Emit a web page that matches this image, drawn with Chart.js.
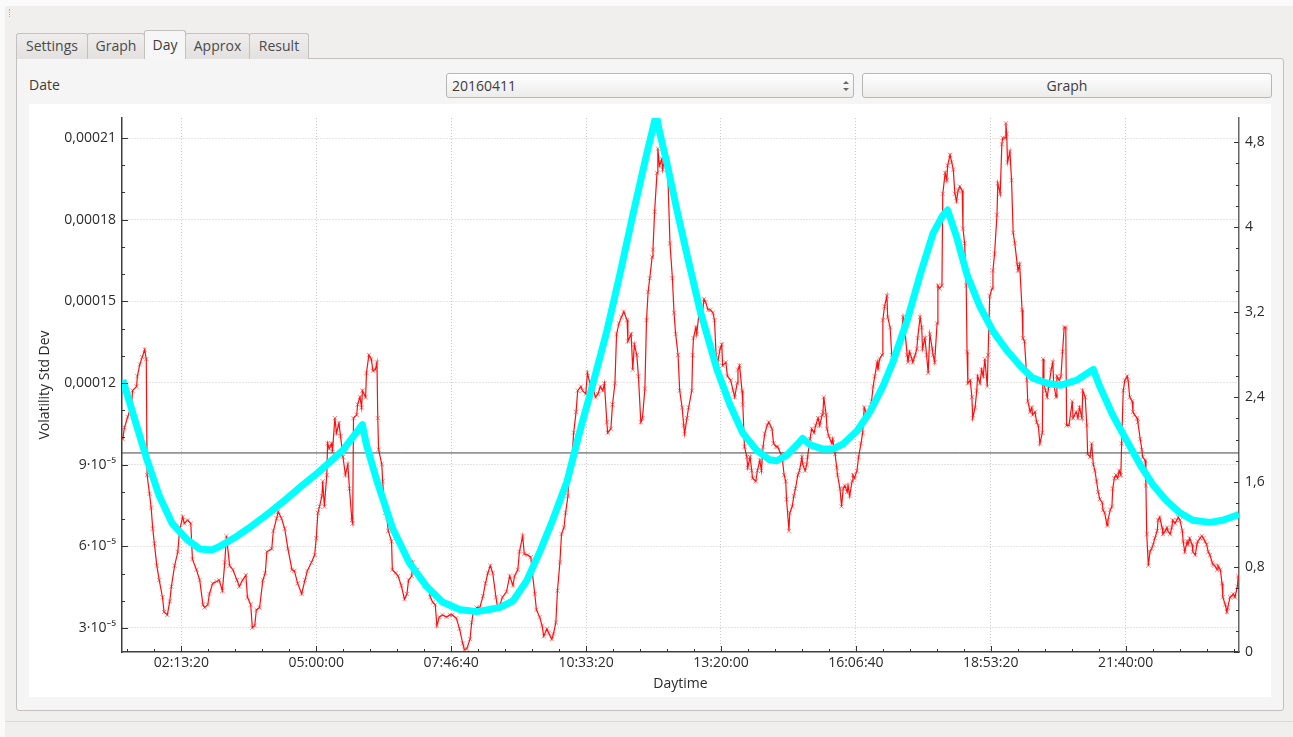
<!DOCTYPE html>
<html>
<head>
<meta charset="utf-8">
<script src="https://cdn.jsdelivr.net/npm/chart.js@4.4.1/dist/chart.umd.min.js"></script>
<style>
  body { margin: 0; width: 1293px; height: 737px; position: relative; overflow: hidden;
         background: #fafafa; font-family: "Open Sans", sans-serif; font-size: 14px; color: #3c3c3c; }
  .abs { position: absolute; box-sizing: border-box; }
  #win { left: 5px; top: 6px; width: 1288px; height: 731px; background: #f0efee; }
  #grip { left: 9px; top: 9px; width: 3px; height: 8px; border-left: 1px dotted #b5b3b0; }
  .tab { top: 33px; height: 26px; border: 1px solid #c3c1be; border-bottom: none; border-radius: 3px 3px 0 0;
         background: linear-gradient(#efeeed, #e2e1df); text-align: center; line-height: 24px; color: #4a4a4a; }
  .tab.sel { top: 30px; height: 29px; background: #f6f6f6; line-height: 27px; z-index: 2; color: #3c3c3c; }
  #pane { left: 16px; top: 58px; width: 1268px; height: 653px; border: 1px solid #c3c1be;
          border-radius: 0 3px 3px 3px; background: #f5f5f5; }
  #date { left: 29px; top: 75px; line-height: 20px; }
  .ctl { top: 73px; height: 25px; border: 1px solid #b9b7b4; border-radius: 3px;
         background: linear-gradient(#fefefe, #edeceb); line-height: 23px; }
  #combo { left: 446px; width: 408px; padding-left: 5px; }
  #btn { left: 862px; width: 410px; text-align: center; }
  .up, .dn { width: 0; height: 0; border-left: 3px solid transparent; border-right: 3px solid transparent; left: 843px; }
  .up { top: 81px; border-bottom: 3px solid #666; }
  .dn { top: 88px; border-top: 3px solid #666; }
  #plot { left: 29px; top: 104px; width: 1242px; height: 593px; background: #fff; }
  #status { left: 5px; top: 721px; width: 1288px; height: 1px; background: #dad9d7; }
</style>
</head>
<body>
<div id="win" class="abs"></div>
<div id="grip" class="abs"></div>
<div id="pane" class="abs"></div>
<div class="abs tab" style="left:16px;width:72px">Settings</div>
<div class="abs tab" style="left:87px;width:58px">Graph</div>
<div class="abs tab sel" style="left:144px;width:42px">Day</div>
<div class="abs tab" style="left:185px;width:65px">Approx</div>
<div class="abs tab" style="left:249px;width:60px">Result</div>
<div id="date" class="abs">Date</div>
<div id="combo" class="abs ctl">20160411</div>
<div class="abs up"></div>
<div class="abs dn"></div>
<div id="btn" class="abs ctl">Graph</div>
<div id="plot" class="abs"><canvas id="chart" width="1242" height="593"></canvas></div>
<div id="status" class="abs"></div>

<script>
// time of day in minutes, volatility in units of 1e-5
const volTime = [
    61, 63, 67, 72, 73, 78, 79, 82, 85, 88,
    90, 91, 94, 96, 98, 100, 103, 106, 110, 112,
    116, 119, 121, 125, 129, 131, 135, 137, 141, 145,
    147, 152, 156, 160, 162, 166, 168, 172, 177, 180,
    184, 187, 189, 193, 197, 202, 205, 209, 213, 215,
    219, 221, 224, 226, 230, 234, 237, 239, 245, 247,
    251, 253, 257, 261, 265, 270, 273, 277, 282, 286,
    289, 294, 298, 300, 302, 304, 307, 308, 310, 313,
    314, 316, 319, 320, 323, 325, 328, 330, 333, 336,
    339, 341, 344, 345, 346, 350, 351, 354, 356, 357,
    361, 362, 365, 368, 370, 373, 375, 376, 377, 381,
    382, 385, 387, 389, 393, 394, 398, 401, 405, 409,
    412, 414, 418, 419, 423, 425, 430, 434, 438, 441,
    444, 447, 449, 452, 456, 461, 465, 468, 473, 477,
    481, 483, 486, 490, 492, 494, 498, 502, 506, 509,
    512, 515, 518, 522, 524, 527, 530, 535, 539, 543,
    545, 549, 551, 555, 557, 561, 565, 567, 570, 572,
    576, 579, 581, 585, 587, 591, 593, 596, 598, 601,
    603, 606, 608, 611, 612, 616, 618, 621, 623, 627,
    629, 633, 635, 639, 642, 645, 648, 651, 654, 656,
    659, 660, 664, 666, 669, 671, 674, 677, 680, 684,
    685, 689, 691, 693, 696, 698, 701, 703, 706, 708,
    710, 712, 715, 716, 718, 721, 722, 724, 727, 728,
    731, 733, 734, 737, 740, 742, 744, 747, 749, 752,
    754, 755, 758, 760, 764, 765, 766, 769, 770, 773,
    776, 779, 781, 784, 787, 790, 792, 794, 796, 799,
    801, 802, 806, 808, 812, 815, 817, 820, 821, 823,
    826, 827, 829, 832, 833, 836, 838, 839, 843, 845,
    848, 850, 852, 854, 857, 859, 863, 865, 868, 870,
    874, 876, 878, 880, 881, 884, 885, 888, 890, 892,
    895, 897, 900, 901, 904, 906, 907, 910, 912, 915,
    917, 920, 922, 925, 926, 927, 930, 931, 933, 937,
    938, 941, 943, 944, 947, 949, 951, 953, 956, 957,
    959, 962, 963, 965, 968, 970, 973, 975, 977, 979,
    981, 984, 986, 988, 990, 993, 994, 996, 999, 1000,
    1002, 1005, 1006, 1009, 1011, 1012, 1015, 1017, 1020, 1023,
    1025, 1027, 1030, 1031, 1033, 1036, 1037, 1040, 1042, 1043,
    1046, 1048, 1049, 1052, 1054, 1056, 1058, 1061, 1062, 1064,
    1067, 1068, 1070, 1073, 1074, 1077, 1079, 1080, 1083, 1085,
    1087, 1089, 1091, 1093, 1095, 1098, 1099, 1101, 1103, 1104,
    1105, 1108, 1110, 1111, 1114, 1116, 1117, 1120, 1122, 1124,
    1126, 1129, 1130, 1132, 1135, 1136, 1138, 1141, 1142, 1145,
    1147, 1148, 1151, 1152, 1153, 1154, 1157, 1159, 1161, 1163,
    1166, 1167, 1169, 1172, 1173, 1175, 1178, 1179, 1182, 1184,
    1185, 1188, 1190, 1192, 1194, 1197, 1198, 1199, 1201, 1203,
    1205, 1208, 1210, 1211, 1214, 1215, 1218, 1220, 1222, 1224,
    1226, 1227, 1230, 1234, 1235, 1239, 1241, 1243, 1246, 1247,
    1250, 1252, 1253, 1256, 1258, 1260, 1262, 1264, 1266, 1268,
    1271, 1272, 1274, 1277, 1278, 1281, 1283, 1284, 1286, 1288,
    1290, 1292, 1294, 1295, 1297, 1299, 1302, 1303, 1305, 1308,
    1309, 1311, 1314, 1315, 1318, 1320, 1321, 1324, 1325, 1326,
    1328, 1330, 1332, 1334, 1336, 1339, 1340, 1342, 1345, 1346,
    1349, 1351, 1352, 1355, 1357, 1358, 1361, 1363, 1365, 1367,
    1370, 1371, 1373, 1376, 1377, 1379, 1382, 1383, 1386, 1388,
    1389, 1392, 1394, 1396, 1398, 1400, 1402, 1404, 1407, 1408,
    1410, 1413, 1414, 1417, 1419, 1420, 1423, 1425, 1426, 1429,
    1431, 1433, 1435, 1438, 1439
];
const volValue = [
    9.94, 10.36, 10.75, 11.21, 11.72, 11.87, 12.25, 12.68, 12.95, 13.23,
    12.88, 8.62, 7.93, 7.42, 6.65, 6.10, 5.29, 4.76, 4.13, 3.59,
    3.48, 3.98, 4.52, 5.29, 5.80, 6.57, 7.08, 6.84, 6.96, 6.84,
    5.53, 5.14, 4.76, 3.86, 3.75, 3.86, 4.25, 4.64, 4.71, 4.76,
    4.37, 5.41, 6.38, 5.29, 5.14, 4.76, 4.52, 4.76, 4.94, 4.13,
    3.86, 3.01, 3.09, 3.67, 3.75, 4.76, 5.02, 5.80, 5.91, 6.57,
    7.03, 7.27, 7.03, 6.65, 5.91, 5.14, 5.10, 4.64, 4.25, 4.76,
    5.10, 5.41, 5.68, 6.30, 7.23, 7.46, 7.85, 8.39, 7.46, 8.62,
    9.78, 9.59, 9.78, 9.47, 10.71, 10.17, 10.52, 10.05, 9.28, 8.62,
    9.01, 8.12, 6.96, 6.84, 10.71, 10.83, 11.21, 11.48, 11.10, 11.72,
    11.48, 12.37, 13.03, 12.88, 12.45, 12.49, 12.76, 10.71, 9.55, 9.01,
    8.39, 7.23, 7.07, 6.57, 6.18, 5.14, 5.02, 4.91, 4.56, 4.06,
    4.25, 4.76, 4.91, 5.41, 5.02, 5.14, 4.76, 4.56, 4.52, 4.13,
    3.94, 3.86, 3.09, 3.40, 3.48, 3.40, 3.48, 3.48, 3.36, 2.97,
    2.43, 2.20, 2.24, 2.59, 3.20, 3.59, 3.75, 3.75, 4.17, 4.64,
    5.02, 5.29, 5.02, 4.13, 3.75, 3.86, 4.13, 4.33, 4.91, 4.56,
    4.91, 5.14, 5.80, 6.38, 5.72, 5.68, 5.60, 5.02, 4.25, 3.67,
    3.40, 3.09, 2.70, 2.97, 2.82, 2.59, 2.78, 3.20, 4.37, 5.41,
    6.45, 6.69, 7.23, 7.85, 8.78, 9.28, 10.17, 10.94, 11.72, 11.87,
    11.72, 11.60, 12.37, 11.87, 11.79, 11.48, 11.60, 11.87, 11.72, 11.99,
    10.56, 10.17, 10.32, 11.21, 11.99, 13.80, 14.19, 14.42, 14.62, 14.31,
    13.53, 13.80, 12.49, 13.42, 13.03, 12.25, 10.56, 10.71, 11.79, 14.31,
    15.35, 15.85, 16.63, 16.90, 18.29, 19.72, 20.61, 19.99, 20.23, 19.84,
    20.38, 20.11, 19.99, 17.13, 15.85, 14.58, 13.80, 13.03, 11.72, 11.10,
    10.44, 10.13, 10.71, 11.10, 11.72, 13.03, 13.65, 14.04, 13.80, 14.58,
    14.31, 15.08, 14.97, 14.69, 14.69, 14.58, 14.31, 13.03, 12.76, 13.26,
    13.42, 12.64, 12.76, 12.25, 12.10, 11.72, 11.48, 11.99, 12.49, 12.64,
    11.72, 11.21, 9.66, 9.28, 8.89, 9.28, 8.78, 8.50, 8.39, 8.78,
    9.16, 8.78, 9.66, 10.13, 10.44, 10.56, 10.32, 9.78, 9.66, 9.66,
    9.39, 9.16, 8.62, 8.39, 7.73, 6.57, 7.23, 7.46, 7.85, 8.12,
    8.62, 8.78, 9.28, 9.01, 8.78, 9.01, 9.28, 9.94, 10.32, 10.17,
    10.44, 10.71, 10.44, 10.83, 10.94, 11.48, 10.83, 10.32, 10.05, 9.78,
    9.94, 9.39, 8.89, 8.62, 8.12, 7.46, 8.12, 8.23, 8.00, 8.23,
    7.85, 8.39, 8.62, 8.50, 8.78, 9.28, 9.78, 10.17, 11.10, 10.94,
    10.71, 11.10, 11.33, 11.87, 12.25, 12.76, 12.49, 12.88, 13.03, 14.31,
    14.81, 15.20, 14.42, 14.04, 13.03, 12.76, 12.88, 13.15, 13.42, 13.80,
    14.42, 14.04, 13.03, 12.76, 13.15, 12.88, 12.76, 13.03, 13.26, 13.65,
    14.42, 14.04, 13.26, 13.65, 13.03, 12.37, 13.80, 13.26, 13.03, 12.76,
    14.19, 15.58, 15.47, 15.58, 18.95, 19.72, 19.45, 19.99, 20.38, 20.11,
    19.84, 18.95, 18.68, 19.07, 19.22, 19.07, 17.67, 17.13, 15.58, 13.15,
    11.99, 12.10, 11.48, 10.71, 11.10, 11.72, 12.25, 11.99, 12.49, 12.25,
    12.88, 11.87, 13.03, 15.20, 15.47, 16.13, 16.74, 18.18, 19.34, 18.95,
    20.77, 21.00, 21.00, 21.54, 21.15, 20.11, 20.50, 19.45, 17.52, 17.13,
    16.36, 16.13, 16.36, 14.69, 13.65, 13.53, 12.10, 11.33, 10.94, 11.10,
    10.83, 10.94, 10.56, 10.44, 9.78, 10.17, 12.88, 11.99, 11.72, 11.48,
    11.87, 12.49, 12.76, 11.99, 11.48, 12.25, 12.10, 12.25, 13.15, 14.04,
    14.04, 10.44, 10.44, 11.33, 10.71, 10.94, 10.71, 11.10, 10.71, 11.72,
    11.48, 10.44, 9.39, 9.28, 9.78, 9.01, 8.78, 8.39, 8.00, 7.73,
    7.61, 7.34, 7.23, 6.76, 6.96, 7.34, 7.46, 8.12, 8.50, 8.62,
    8.50, 8.78, 8.62, 9.78, 11.72, 12.10, 12.25, 12.10, 11.48, 11.33,
    10.94, 10.83, 10.71, 10.56, 9.94, 9.55, 9.28, 9.16, 8.23, 6.45,
    5.29, 5.80, 5.91, 6.07, 6.30, 6.57, 6.96, 7.07, 6.69, 6.45,
    6.57, 6.69, 6.57, 6.45, 6.69, 6.96, 6.84, 6.96, 7.07, 6.96,
    6.57, 6.18, 5.80, 6.18, 6.07, 6.30, 6.07, 5.80, 5.68, 6.07,
    6.18, 6.30, 6.38, 6.30, 6.18, 6.07, 5.80, 5.68, 5.41, 5.33,
    5.29, 5.14, 5.29, 5.14, 4.64, 4.13, 3.86, 3.59, 3.75, 4.13,
    4.17, 4.25, 4.13, 4.52, 4.91
];

// approximation curve (right axis)
const fitTime = [
    61, 90, 106, 122, 140, 156, 171, 180, 202, 221,
    242, 263, 283, 304, 333, 357, 362, 375, 394, 415,
    436, 456, 477, 498, 514, 527, 543, 560, 576, 592,
    610, 625, 642, 659, 675, 691, 708, 720, 724, 733,
    745, 758, 774, 795, 811, 827, 844, 860, 869, 881,
    894, 901, 910, 926, 938, 951, 968, 984, 1000, 1012,
    1030, 1046, 1062, 1074, 1080, 1091, 1104, 1120, 1136, 1153,
    1169, 1185, 1203, 1219, 1240, 1260, 1268, 1284, 1302, 1318,
    1334, 1351, 1367, 1383, 1404, 1420, 1438, 1440
];
const fitValue = [
    2.56, 1.83, 1.47, 1.21, 1.06, 0.97, 0.96, 0.99, 1.09, 1.19,
    1.31, 1.44, 1.57, 1.70, 1.90, 2.14, 1.95, 1.61, 1.17, 0.84,
    0.62, 0.47, 0.40, 0.38, 0.40, 0.42, 0.48, 0.67, 0.94, 1.24,
    1.61, 2.06, 2.53, 3.02, 3.55, 4.11, 4.68, 5.06, 4.90, 4.61,
    4.18, 3.74, 3.22, 2.66, 2.33, 2.06, 1.90, 1.81, 1.80, 1.85,
    1.95, 2.01, 1.95, 1.91, 1.91, 1.96, 2.08, 2.26, 2.50, 2.72,
    3.12, 3.55, 3.94, 4.11, 4.16, 3.91, 3.55, 3.25, 3.02, 2.84,
    2.70, 2.58, 2.53, 2.51, 2.56, 2.66, 2.50, 2.23, 1.98, 1.76,
    1.57, 1.42, 1.31, 1.24, 1.22, 1.24, 1.29, 1.30
];

const meanLevel = 9.43;

const timeLabels = ['02:13:20', '05:00:00', '07:46:40', '10:33:20', '13:20:00', '16:06:40', '18:53:20', '21:40:00'];
const volTickValues = [3, 6, 9, 12, 15, 18, 21];
const volLabels = ['3·10⁻⁵', '6·10⁻⁵', '9·10⁻⁵', '0,00012', '0,00015', '0,00018', '0,00021'];
const rightLabels = ['0', '0,8', '1,6', '2,4', '3,2', '4', '4,8'];

const toMin = s => { const [h, m, sec] = s.split(':').map(Number); return h * 60 + m + sec / 60; };
const timeTickValues = timeLabels.map(toMin);
const rightTickValues = rightLabels.map(l => parseFloat(l.replace(',', '.')));

function withMinors(majors, parts, min, max) {
    const step = (majors[1] - majors[0]) / parts;
    const out = [];
    for (let v = majors[0]; v >= min - 1e-9; v -= step) out.unshift(v);
    for (let v = majors[0] + step; v <= max + 1e-9; v += step) out.push(v);
    return out.map(v => ({ value: v, major: majors.some(m => Math.abs(m - v) < step / 10) }));
}
function labelFor(majors, labels) {
    return (value, i, ticks) => {
        if (!ticks[i].major) return '';
        let best = 0;
        majors.forEach((m, k) => { if (Math.abs(m - value) < Math.abs(majors[best] - value)) best = k; });
        return labels[best];
    };
}

const xMin = 60, xMax = 1440;
const yMin = 2.118, yMax = 21.735;
const y1Max = 5.026;

const xTicks = withMinors(timeTickValues, 5, xMin, xMax);
const yTicks = withMinors(volTickValues, 3, yMin, yMax);
const y1Ticks = withMinors(rightTickValues, 4, 0, 4.8);

const textColor = '#2b2b2b';
const gridColor = '#c9c9c9';
const axisColor = '#3f3f3f';
const font = { family: '"Open Sans", "Noto Sans", sans-serif', size: 14 };
const gridOpt = {
    color: c => (c.tick && c.tick.major ? gridColor : 'rgba(0,0,0,0)'),
    lineWidth: 1,
    drawTicks: false
};

// small tick marks pointing into the plot, like the original widget
const innerTicks = {
    id: 'innerTicks',
    afterDraw(chart) {
        const { ctx } = chart;
        const { x, y, y1 } = chart.scales;
        ctx.save();
        ctx.strokeStyle = '#333';
        ctx.lineWidth = 1;
        ctx.beginPath();
        x.ticks.forEach(t => {
            const p = Math.round(x.getPixelForValue(t.value)) + 0.5;
            ctx.moveTo(p, x.top);
            ctx.lineTo(p, x.top - (t.major ? 6 : 3));
        });
        y.ticks.forEach(t => {
            const p = Math.round(y.getPixelForValue(t.value)) + 0.5;
            ctx.moveTo(y.right, p);
            ctx.lineTo(y.right + (t.major ? 6 : 3), p);
        });
        y1.ticks.forEach(t => {
            const p = Math.round(y1.getPixelForValue(t.value)) + 0.5;
            ctx.moveTo(y1.left, p);
            ctx.lineTo(y1.left - (t.major ? 5 : 3), p);
        });
        ctx.stroke();
        ctx.restore();
    }
};

new Chart(document.getElementById('chart'), {
    type: 'line',
    data: {
        datasets: [
            {
                label: 'approx',
                data: fitTime.map((t, i) => ({ x: t, y: fitValue[i] })),
                yAxisID: 'y1',
                borderColor: '#00ffff',
                borderWidth: 7,
                pointRadius: 0,
                borderJoinStyle: 'round',
                clip: 0,
                order: 0
            },
            {
                label: 'mean',
                data: [{ x: xMin, y: meanLevel }, { x: xMax, y: meanLevel }],
                yAxisID: 'y',
                borderColor: '#444444',
                borderWidth: 1,
                pointRadius: 0,
                order: 1
            },
            {
                label: 'Volatility Std Dev',
                data: volTime.map((t, i) => ({ x: t, y: volValue[i] })),
                yAxisID: 'y',
                borderColor: 'rgba(255,0,0,0.95)',
                borderWidth: 1.2,
                pointStyle: 'crossRot',
                pointRadius: 3,
                pointBorderWidth: 1,
                pointBorderColor: 'rgba(255,30,30,0.55)',
                pointBackgroundColor: 'rgba(255,30,30,0.55)',
                clip: 0,
                order: 2
            }
        ]
    },
    options: {
        responsive: false,
        animation: false,
        devicePixelRatio: 1,
        layout: { padding: { top: 14, left: 0, right: 0, bottom: 0 } },
        elements: { line: { tension: 0 } },
        plugins: { legend: { display: false }, tooltip: { enabled: false } },
        scales: {
            x: {
                type: 'linear',
                min: xMin,
                max: xMax,
                afterBuildTicks: s => { s.ticks = xTicks.map(t => ({ ...t })); },
                afterFit: s => { s.height = 45; s.paddingLeft = 0; s.paddingRight = 0; },
                grid: gridOpt,
                border: { color: axisColor, width: 1.5, dash: [1, 2] },
                ticks: { autoSkip: false, maxRotation: 0, padding: 3, color: textColor, font,
                         callback: labelFor(timeTickValues, timeLabels) },
                title: { display: true, text: 'Daytime', color: textColor, font, padding: { top: 0, bottom: 5 } }
            },
            y: {
                position: 'left',
                min: yMin,
                max: yMax,
                afterBuildTicks: s => { s.ticks = yTicks.map(t => ({ ...t })); },
                afterFit: s => { s.width = 93; s.paddingTop = 0; s.paddingBottom = 0; },
                grid: gridOpt,
                border: { color: axisColor, width: 1.5, dash: [1, 2] },
                ticks: { autoSkip: false, padding: 6, color: textColor, font,
                         callback: labelFor(volTickValues, volLabels) },
                title: { display: true, text: 'Volatility Std Dev', color: textColor, font, padding: { top: 8 } }
            },
            y1: {
                position: 'right',
                min: 0,
                max: y1Max,
                afterBuildTicks: s => { s.ticks = y1Ticks.map(t => ({ ...t })); },
                afterFit: s => { s.width = 32; s.paddingTop = 0; s.paddingBottom = 0; },
                grid: { drawOnChartArea: false, drawTicks: false },
                border: { color: '#666', width: 1.5 },
                ticks: { autoSkip: false, padding: 6, color: textColor, font,
                         callback: labelFor(rightTickValues, rightLabels) }
            }
        }
    },
    plugins: [innerTicks]
});
</script>
</body>
</html>
